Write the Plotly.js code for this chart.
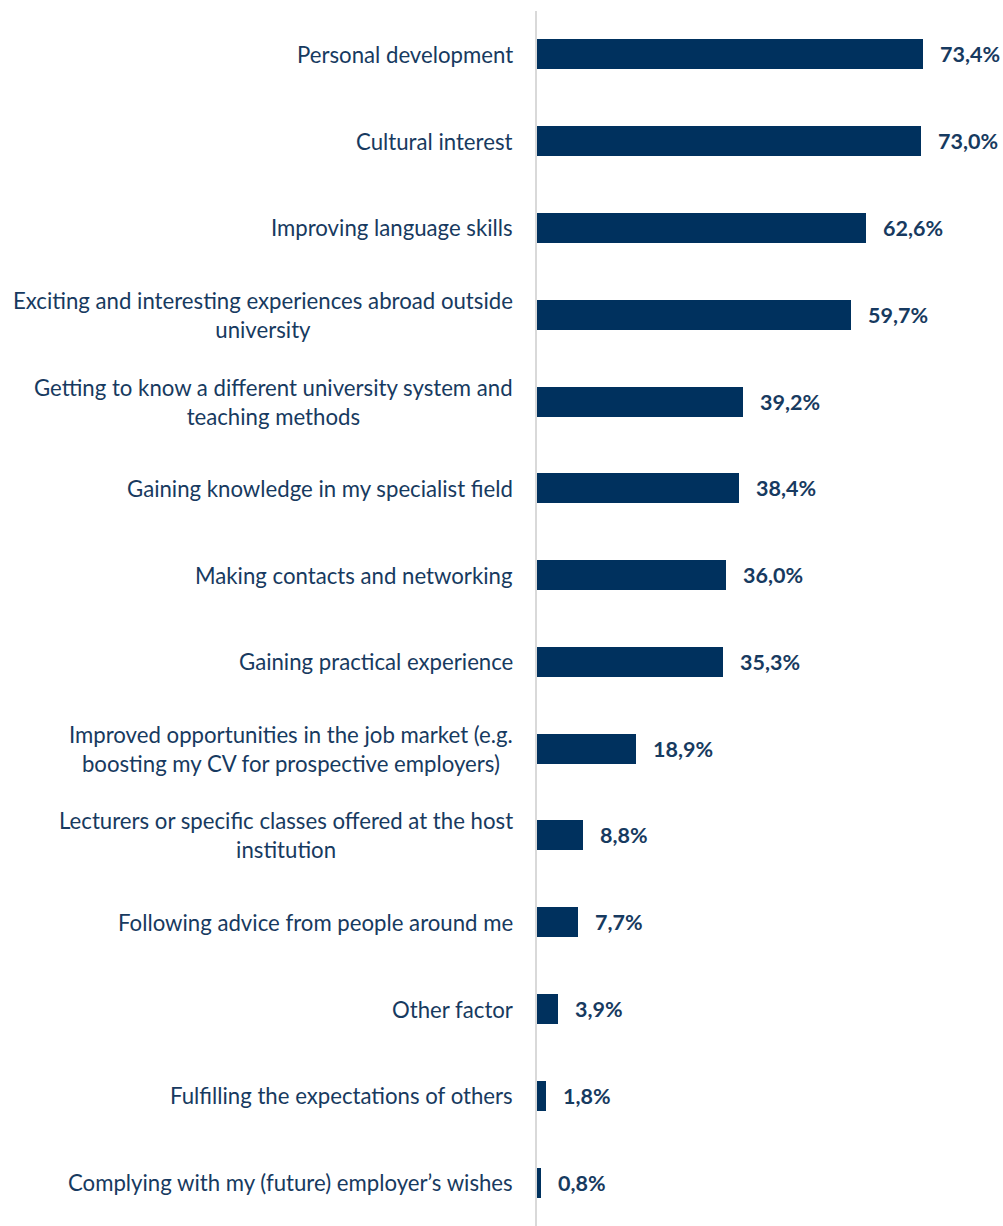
<!DOCTYPE html>
<html>
<head>
<meta charset="utf-8">
<script src="https://cdn.plot.ly/plotly-3.0.1.min.js"></script>
<style>html,body{margin:0;padding:0;background:#fff;}#chart{width:1003px;height:1226px;}</style>
</head>
<body>
<div id="chart"></div>
<script>
const categories = [
  "Personal development",
  "Cultural interest",
  "Improving language skills",
  "Exciting and interesting experiences abroad outside<br>university",
  "Getting to know a different university system and<br>teaching methods",
  "Gaining knowledge in my specialist field",
  "Making contacts and networking",
  "Gaining practical experience",
  "Improved opportunities in the job market (e.g.<br>boosting my CV for prospective employers)",
  "Lecturers or specific classes offered at the host<br>institution",
  "Following advice from people around me",
  "Other factor",
  "Fulfilling the expectations of others",
  "Complying with my (future) employer\u2019s wishes"
];
const values = [73.4, 73.0, 62.6, 59.7, 39.2, 38.4, 36.0, 35.3, 18.9, 8.8, 7.7, 3.9, 1.8, 0.8];

const navy = "#00315e";
const textNavy = "#173a60";
const fontFam = "Lato, 'Open Sans', sans-serif";

const ids = categories.map((c, i) => "c" + i);

const trace = {
  type: "bar",
  orientation: "h",
  y: ids,
  x: values,
  marker: {color: navy, line: {width: 0}},
  width: 0.345,
  hoverinfo: "skip"
};

const annotations = [];
categories.forEach((c, i) => {
  annotations.push({
    xref: "paper", yref: "y", x: 0, y: ids[i],
    xanchor: "right", yanchor: "middle", xshift: -22,
    text: c, align: "center", showarrow: false,
    font: {family: fontFam, size: 22.2, color: textNavy}
  });
  annotations.push({
    xref: "x", yref: "y", x: values[i], y: ids[i],
    xanchor: "left", yanchor: "middle", xshift: 15,
    text: "<b>" + values[i].toFixed(1).replace(".", ",") + "%</b>",
    showarrow: false,
    font: {family: fontFam, size: 21.5, color: textNavy}
  });
});

const layout = {
  width: 1003, height: 1226,
  margin: {l: 537, r: 0, t: 11, b: 0},
  paper_bgcolor: "#ffffff", plot_bgcolor: "#ffffff",
  showlegend: false,
  xaxis: {range: [0, 88.6], showgrid: false, zeroline: false, showline: false, showticklabels: false, ticks: ""},
  yaxis: {autorange: "reversed", showgrid: false, zeroline: false, showline: true, linecolor: "#d9d9d9", linewidth: 2, showticklabels: false, ticks: ""},
  annotations: annotations,
  bargap: 0
};

Plotly.newPlot("chart", [trace], layout, {staticPlot: true, displayModeBar: false});
</script>
</body>
</html>
